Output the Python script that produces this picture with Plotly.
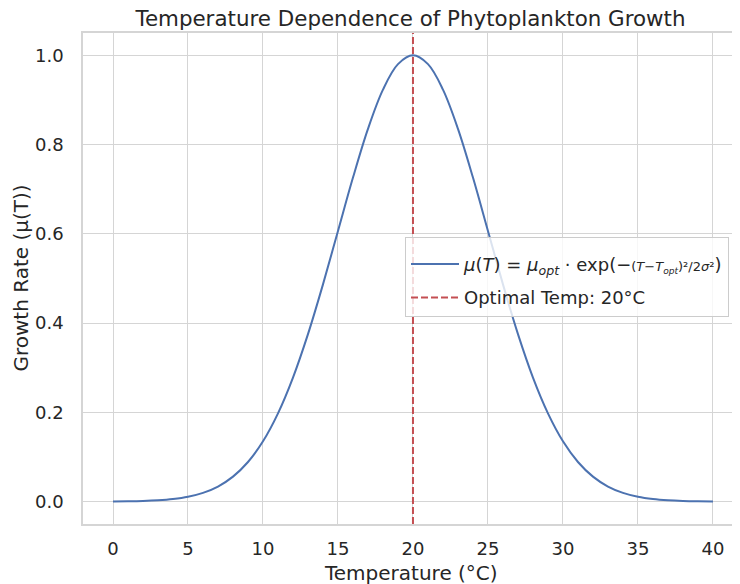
import plotly.graph_objects as go

# Temperature (°C) and growth rate
temperature = list(range(0, 41))
growth_rate = [
    0.0003, 0.0007, 0.0015, 0.0031, 0.0060, 0.0111, 0.0198, 0.0340, 0.0561, 0.0889,
    0.1353, 0.1979, 0.2780, 0.3753, 0.4868, 0.6065, 0.7261, 0.8353, 0.9231, 0.9802,
    1.0000,
    0.9802, 0.9231, 0.8353, 0.7261, 0.6065, 0.4868, 0.3753, 0.2780, 0.1979, 0.1353,
    0.0889, 0.0561, 0.0340, 0.0198, 0.0111, 0.0060, 0.0031, 0.0015, 0.0007, 0.0003,
]
optimal_temp = 20
x_ticks = [0, 5, 10, 15, 20, 25, 30, 35, 40]
y_ticks = [0.0, 0.2, 0.4, 0.6, 0.8, 1.0]
y_tick_labels = ["0.0", "0.2", "0.4", "0.6", "0.8", "1.0"]
y_range = [-0.05, 1.05]

FONT = "DejaVu Sans, Liberation Sans, sans-serif"
TXT = "#262626"
GRID = "#d5d5d5"

# the page body has an 8px default margin, so the figure is 8px smaller
W, H = 732, 576

formula = ("<span style='font-size:18px'><i>μ</i>(<i>T</i>) = <i>μ<sub>opt</sub></i> · exp(−</span>"
           "<span style='font-size:13px'>(<i>T</i>−<i>T<sub>opt</sub></i>)²/2<i>σ</i>²</span>"
           "<span style='font-size:18px'>)</span>")

fig = go.Figure()
fig.add_trace(go.Scatter(
    x=temperature, y=growth_rate, mode="lines",
    line=dict(color="#4C72B0", width=2, shape="spline"),
    name=formula, legendgroup="a",
))
fig.add_trace(go.Scatter(
    x=[optimal_temp, optimal_temp], y=y_range, mode="lines",
    line=dict(color="#C44E52", width=2, dash="7px,3px"),
    name=f"Optimal Temp: {optimal_temp}°C", legendgroup="b",
))

fig.update_layout(
    width=W, height=H,
    paper_bgcolor="white", plot_bgcolor="white",
    margin=dict(l=75, r=2, t=25, b=60, autoexpand=False),
    font=dict(family=FONT, size=18, color=TXT),
    title=dict(text="Temperature Dependence of Phytoplankton Growth",
               x=0.5, xref="paper", xanchor="center",
               y=1 - 10 / H, yref="container", yanchor="middle",
               font=dict(size=21.4, color=TXT)),
    showlegend=True,
    legend=dict(x=0.4916, y=0.5845, xanchor="left", yanchor="top",
                bgcolor="rgba(255,255,255,0.8)", bordercolor="#cccccc", borderwidth=1,
                font=dict(size=18, color=TXT), tracegroupgap=7,
                itemwidth=48,
                title=dict(text=" ", font=dict(size=6))),
    annotations=[
        dict(text="Temperature (°C)", xref="paper", yref="paper", x=0.5, y=0,
             xanchor="center", yanchor="middle", yshift=-49, showarrow=False,
             font=dict(size=20, color=TXT)),
        dict(text="Growth Rate (μ(T))", xref="paper", yref="paper", x=0, y=0.5,
             xanchor="center", yanchor="middle", xshift=-63, textangle=-90,
             showarrow=False, font=dict(size=20, color=TXT)),
    ],
)
fig.update_xaxes(
    range=[-2, 41.67], tickvals=x_ticks, ticktext=[str(t) for t in x_ticks],
    showgrid=True, gridcolor=GRID, gridwidth=1, zeroline=False,
    showline=True, linecolor=GRID, linewidth=1.5, mirror=True,
    ticks="", ticklabelstandoff=8, automargin=False, tickfont=dict(size=18),
)
fig.update_yaxes(
    range=y_range, tickvals=y_ticks, ticktext=y_tick_labels,
    showgrid=True, gridcolor=GRID, gridwidth=1, zeroline=False,
    showline=True, linecolor=GRID, linewidth=1.5, mirror=True,
    ticks="", ticklabelstandoff=14, automargin=False, tickfont=dict(size=18),
)

fig.write_html("out.html")
